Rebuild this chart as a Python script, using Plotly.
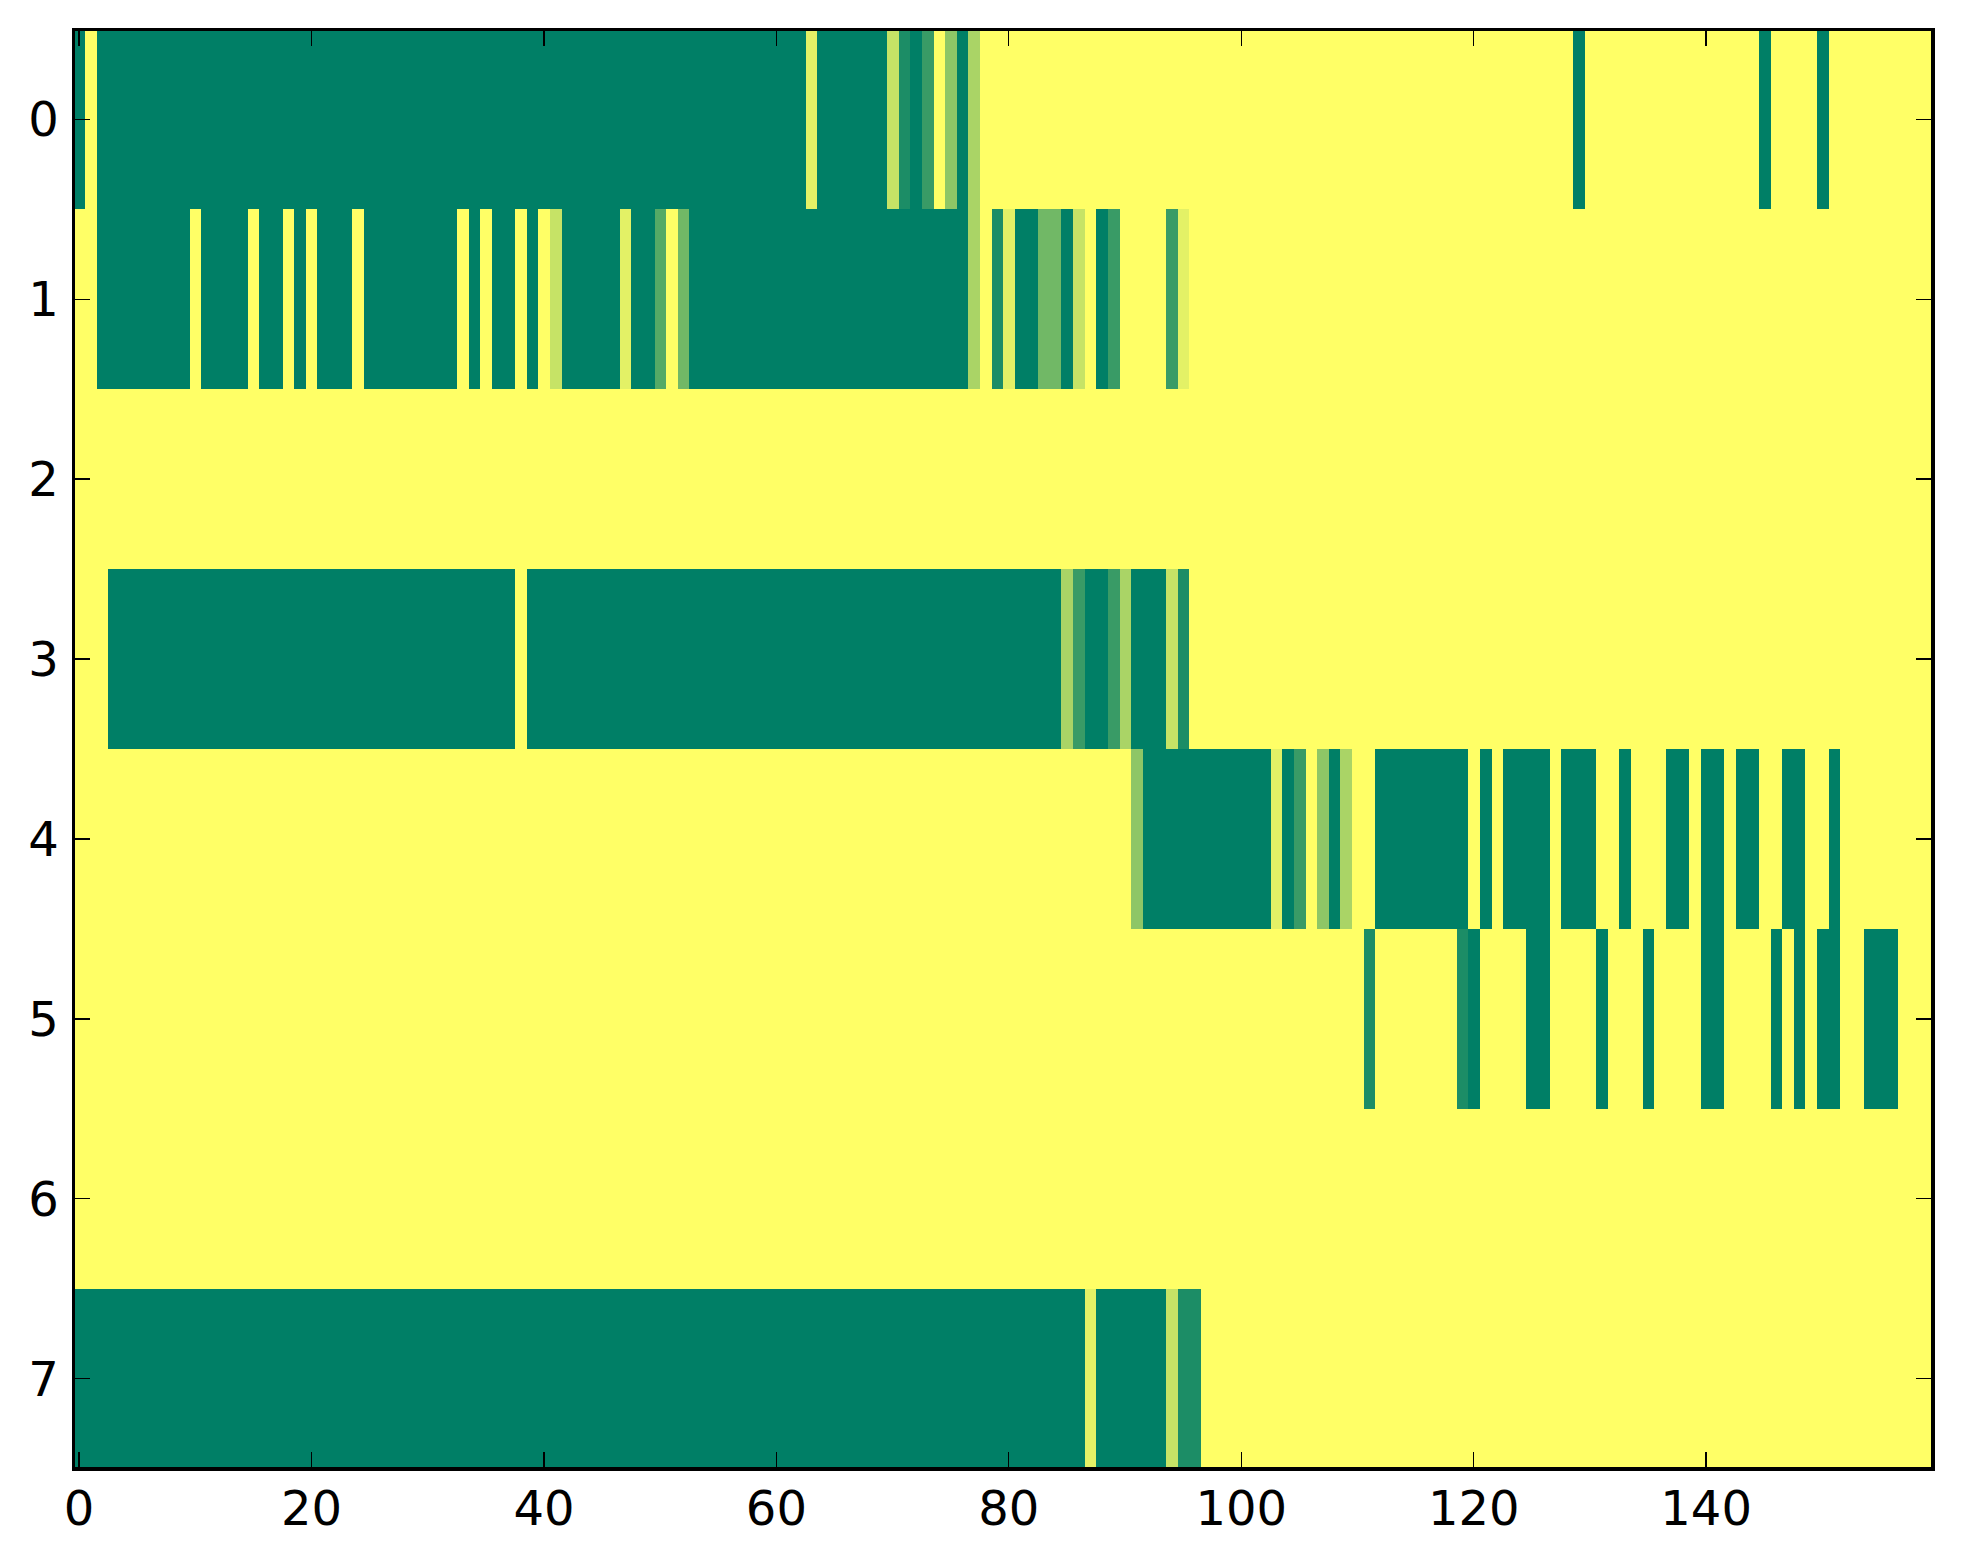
import plotly.graph_objects as go

# Cell levels per row, in ninths: 0 = yellow end of the map, 9 = green end.
row_0 = [
 9,0,9,9,9,9,9,9,9,9, 9,9,9,9,9,9,9,9,9,9, 9,9,9,9,9,9,9,9,9,9, 9,9,9,9,9,9,9,9,9,9,
 9,9,9,9,9,9,9,9,9,9, 9,9,9,9,9,9,9,9,9,9, 9,9,9,1,9,9,9,9,9,9, 2,8,9,7,0,4,9,3,0,0,
 0,0,0,0,0,0,0,0,0,0, 0,0,0,0,0,0,0,0,0,0, 0,0,0,0,0,0,0,0,0,0, 0,0,0,0,0,0,0,0,0,0,
 0,0,0,0,0,0,0,0,0,9, 0,0,0,0,0,0,0,0,0,0, 0,0,0,0,0,9,0,0,0,0, 9,0,0,0,0,0,0,0,0,0,
]
row_1 = [
 0,0,9,9,9,9,9,9,9,9, 0,9,9,9,9,0,9,9,0,9, 0,9,9,9,0,9,9,9,9,9, 9,9,9,0,9,0,9,9,0,9,
 0,2,9,9,9,9,9,1,9,9, 6,0,5,9,9,9,9,9,9,9, 9,9,9,9,9,9,9,9,9,9, 9,9,9,9,9,9,9,3,0,8,
 1,9,9,5,5,9,2,0,9,7, 0,0,0,0,7,1,0,0,0,0, 0,0,0,0,0,0,0,0,0,0, 0,0,0,0,0,0,0,0,0,0,
 0,0,0,0,0,0,0,0,0,0, 0,0,0,0,0,0,0,0,0,0, 0,0,0,0,0,0,0,0,0,0, 0,0,0,0,0,0,0,0,0,0,
]
row_2 = [
 0,0,0,0,0,0,0,0,0,0, 0,0,0,0,0,0,0,0,0,0, 0,0,0,0,0,0,0,0,0,0, 0,0,0,0,0,0,0,0,0,0,
 0,0,0,0,0,0,0,0,0,0, 0,0,0,0,0,0,0,0,0,0, 0,0,0,0,0,0,0,0,0,0, 0,0,0,0,0,0,0,0,0,0,
 0,0,0,0,0,0,0,0,0,0, 0,0,0,0,0,0,0,0,0,0, 0,0,0,0,0,0,0,0,0,0, 0,0,0,0,0,0,0,0,0,0,
 0,0,0,0,0,0,0,0,0,0, 0,0,0,0,0,0,0,0,0,0, 0,0,0,0,0,0,0,0,0,0, 0,0,0,0,0,0,0,0,0,0,
]
row_3 = [
 0,0,0,9,9,9,9,9,9,9, 9,9,9,9,9,9,9,9,9,9, 9,9,9,9,9,9,9,9,9,9, 9,9,9,9,9,9,9,9,0,9,
 9,9,9,9,9,9,9,9,9,9, 9,9,9,9,9,9,9,9,9,9, 9,9,9,9,9,9,9,9,9,9, 9,9,9,9,9,9,9,9,9,9,
 9,9,9,9,9,3,7,9,9,7, 3,9,9,9,2,8,0,0,0,0, 0,0,0,0,0,0,0,0,0,0, 0,0,0,0,0,0,0,0,0,0,
 0,0,0,0,0,0,0,0,0,0, 0,0,0,0,0,0,0,0,0,0, 0,0,0,0,0,0,0,0,0,0, 0,0,0,0,0,0,0,0,0,0,
]
row_4 = [
 0,0,0,0,0,0,0,0,0,0, 0,0,0,0,0,0,0,0,0,0, 0,0,0,0,0,0,0,0,0,0, 0,0,0,0,0,0,0,0,0,0,
 0,0,0,0,0,0,0,0,0,0, 0,0,0,0,0,0,0,0,0,0, 0,0,0,0,0,0,0,0,0,0, 0,0,0,0,0,0,0,0,0,0,
 0,0,0,0,0,0,0,0,0,0, 0,4,9,9,9,9,9,9,9,9, 9,9,9,1,9,7,0,4,9,3, 0,0,9,9,9,9,9,9,9,9,
 0,9,0,9,9,9,9,0,9,9, 9,0,0,9,0,0,0,9,9,0, 9,9,0,9,9,0,0,9,9,0, 0,9,0,0,0,0,0,0,0,0,
]
row_5 = [
 0,0,0,0,0,0,0,0,0,0, 0,0,0,0,0,0,0,0,0,0, 0,0,0,0,0,0,0,0,0,0, 0,0,0,0,0,0,0,0,0,0,
 0,0,0,0,0,0,0,0,0,0, 0,0,0,0,0,0,0,0,0,0, 0,0,0,0,0,0,0,0,0,0, 0,0,0,0,0,0,0,0,0,0,
 0,0,0,0,0,0,0,0,0,0, 0,0,0,0,0,0,0,0,0,0, 0,0,0,0,0,0,0,0,0,0, 0,8,0,0,0,0,0,0,0,8,
 9,0,0,0,0,9,9,0,0,0, 0,9,0,0,0,9,0,0,0,0, 9,9,0,0,0,0,9,0,9,0, 9,9,0,0,9,9,9,0,0,0,
]
row_6 = [
 0,0,0,0,0,0,0,0,0,0, 0,0,0,0,0,0,0,0,0,0, 0,0,0,0,0,0,0,0,0,0, 0,0,0,0,0,0,0,0,0,0,
 0,0,0,0,0,0,0,0,0,0, 0,0,0,0,0,0,0,0,0,0, 0,0,0,0,0,0,0,0,0,0, 0,0,0,0,0,0,0,0,0,0,
 0,0,0,0,0,0,0,0,0,0, 0,0,0,0,0,0,0,0,0,0, 0,0,0,0,0,0,0,0,0,0, 0,0,0,0,0,0,0,0,0,0,
 0,0,0,0,0,0,0,0,0,0, 0,0,0,0,0,0,0,0,0,0, 0,0,0,0,0,0,0,0,0,0, 0,0,0,0,0,0,0,0,0,0,
]
row_7 = [
 9,9,9,9,9,9,9,9,9,9, 9,9,9,9,9,9,9,9,9,9, 9,9,9,9,9,9,9,9,9,9, 9,9,9,9,9,9,9,9,9,9,
 9,9,9,9,9,9,9,9,9,9, 9,9,9,9,9,9,9,9,9,9, 9,9,9,9,9,9,9,9,9,9, 9,9,9,9,9,9,9,9,9,9,
 9,9,9,9,9,9,9,1,9,9, 9,9,9,9,2,8,8,0,0,0, 0,0,0,0,0,0,0,0,0,0, 0,0,0,0,0,0,0,0,0,0,
 0,0,0,0,0,0,0,0,0,0, 0,0,0,0,0,0,0,0,0,0, 0,0,0,0,0,0,0,0,0,0, 0,0,0,0,0,0,0,0,0,0,
]
rows = [row_0, row_1, row_2, row_3, row_4, row_5, row_6, row_7]

x_ticks = [0, 20, 40, 60, 80, 100, 120, 140]
y_ticks = [0, 1, 2, 3, 4, 5, 6, 7]

fig = go.Figure(go.Heatmap(
    z=rows,
    zmin=0, zmax=9,
    colorscale=[[0, "#ffff66"], [1, "#007f66"]],
    showscale=False,
))

axis_style = dict(
    showgrid=False, zeroline=False,
    ticks="inside", ticklen=15, tickwidth=1.25, tickcolor="black",
    showline=True, linecolor="black", linewidth=3.5, mirror="ticks",
    tickfont=dict(family="DejaVu Sans", size=48, color="black"),
)
# The axis line sits outside the plot area, so the area is inset half a line width
# and the range trimmed to match, which centres each line on the outer cell edge.
fig.update_xaxes(range=[-0.3495, 159.3495], tickmode="array", tickvals=x_ticks,
                 ticktext=[str(t) for t in x_ticks], ticklabelstandoff=-3, **axis_style)
fig.update_yaxes(range=[7.4903, -0.4903], tickmode="array", tickvals=y_ticks,
                 ticktext=[str(t) for t in y_ticks], ticklabelstandoff=3, **axis_style)

fig.update_layout(
    width=1963, height=1564, autosize=False,
    margin=dict(l=74.75, r=31.75, t=30.75, b=96.75, pad=0),
    paper_bgcolor="white", plot_bgcolor="white",
)

fig.write_html("out.html", config={"staticPlot": True},
               post_script="document.body.style.margin='0';")
